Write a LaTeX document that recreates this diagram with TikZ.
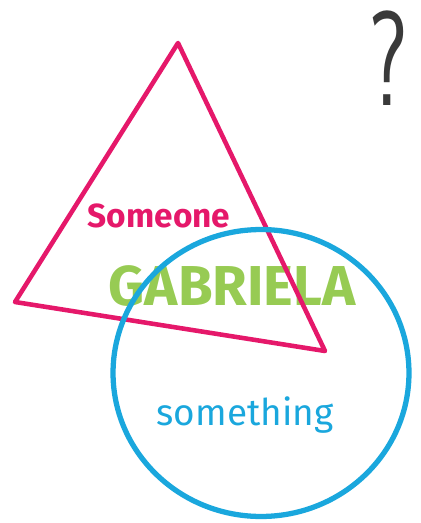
\documentclass[tikz,border=0pt]{standalone}
\usepackage{fontspec}
\setmainfont{Fira Sans}
\usepackage{xcolor}
\usetikzlibrary{shapes.geometric}
\definecolor{vennPink}{HTML}{E5186A}
\definecolor{vennBlue}{HTML}{1AA7DD}
\definecolor{vennGreen}{HTML}{8CC540}
\definecolor{vennInk}{HTML}{3A3A3A}

\begin{document}
\begin{tikzpicture}[
  x=0.02cm,y=-0.02cm,
  every node/.style={inner sep=0pt,outer sep=0pt},
  pinkline/.style ={draw=vennPink,line width=2.6pt,line join=round,line cap=round},
  blueline/.style ={ellipse,draw=vennBlue,line width=3pt,minimum width=5.92cm,minimum height=5.74cm},
  pinktext/.style ={text=vennPink,font=\fontsize{19}{23}\selectfont\bfseries},
  bluetext/.style ={text=vennBlue,font=\fontsize{21}{25}\selectfont},
  greentext/.style={text=vennGreen,font=\fontsize{32}{38}\selectfont\bfseries,opacity=0.9},
  asktext/.style  ={text=vennInk,font=\fontsize{64}{70}\selectfont\sffamily,xscale=0.8,yscale=1.2}
]
\useasboundingbox (0,0) rectangle (420,523);

% labels
\node[greentext,anchor=base] (name) at (232,305) {GABRIELA};
\node[pinktext,anchor=base] (someone) at (159,228) {Someone};
\node[bluetext,anchor=base] (something) at (245,425) {something};
\node[asktext,anchor=base] (ask) at (388,106) {?};

% triangle
\coordinate (tTop)   at (178,43);
\coordinate (tLeft)  at (15,302);
\coordinate (tRight) at (325,351);
\draw[pinkline] (tTop) -- (tLeft) -- (tRight) -- cycle;

% circle
\node[blueline] (ring) at (261,373) {};
\end{tikzpicture}
\end{document}
